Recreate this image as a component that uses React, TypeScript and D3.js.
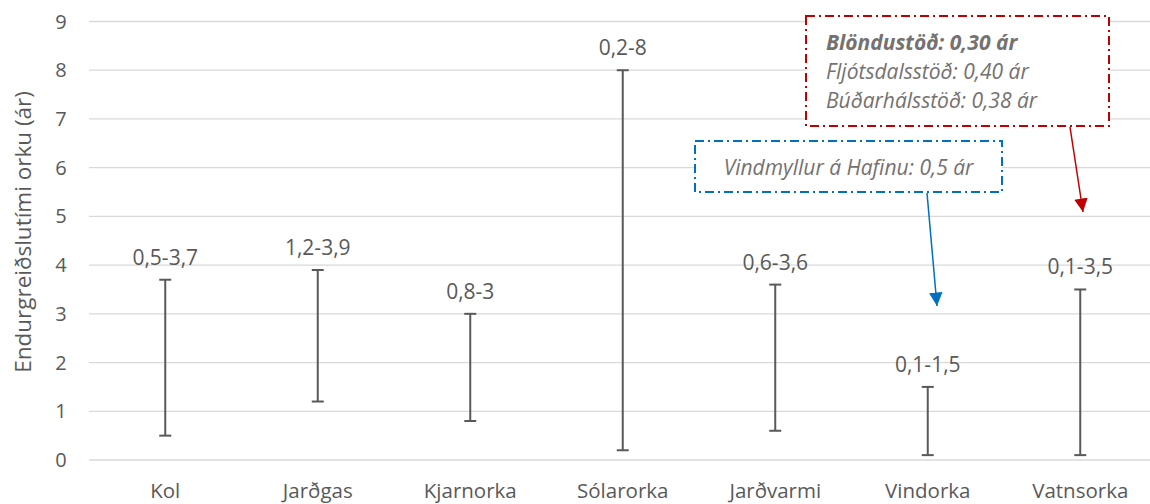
import React from "react";
import * as d3 from "d3";

const categories = ["Kol", "Jarðgas", "Kjarnorka", "Sólarorka", "Jarðvarmi", "Vindorka", "Vatnsorka"];
const lowValues = [0.5, 1.2, 0.8, 0.2, 0.6, 0.1, 0.1];
const highValues = [3.7, 3.9, 3.0, 8.0, 3.6, 1.5, 3.5];
const rangeLabels = ["0,5-3,7", "1,2-3,9", "0,8-3", "0,2-8", "0,6-3,6", "0,1-1,5", "0,1-3,5"];
const yTicks = [0, 1, 2, 3, 4, 5, 6, 7, 8, 9];
const hydroNotes = ["Blöndustöð: 0,30 ár", "Fljótsdalsstöð: 0,40 ár", "Búðarhálsstöð: 0,38 ár"];
const windNote = "Vindmyllur á Hafinu: 0,5 ár";

const W = 1150, H = 504;
const FONT = "'Open Sans', 'Noto Sans', sans-serif";
const GRAY = "#595959";

export default function App() {
  const x = d3.scaleBand<string>().domain(categories).range([89, 89 + 152.5 * 7]);
  const y = d3.scaleLinear().domain([0, 9]).range([460, 21.5]);
  const cap = 6;
  const dash = "9,4,2,4";
  return (
    <svg width={W} height={H} style={{ position: "absolute", left: 0, top: 0, background: "#fff" }} fontFamily={FONT}>
      <defs>
        <marker id="arrRed" viewBox="0 0 10 10" refX="10" refY="5" markerWidth="9" markerHeight="9" orient="auto" markerUnits="strokeWidth">
          <path d="M0,0 L10,5 L0,10 Z" fill="#C00000" />
        </marker>
        <marker id="arrBlue" viewBox="0 0 10 10" refX="10" refY="5" markerWidth="9" markerHeight="9" orient="auto" markerUnits="strokeWidth">
          <path d="M0,0 L10,5 L0,10 Z" fill="#0070C0" />
        </marker>
      </defs>
      {yTicks.map((t) => (
        <g key={t}>
          <line x1={89} x2={W} y1={y(t)} y2={y(t)} stroke="#d9d9d9" strokeWidth={1.3} />
          <text x={61} y={y(t)} dy="0.35em" textAnchor="middle" fontSize={20} fill={GRAY}>{t}</text>
        </g>
      ))}
      <text transform={`translate(31,${232}) rotate(-90)`} textAnchor="middle" fontSize={22.5} fill={GRAY}>
        Endurgreiðslutími orku (ár)
      </text>
      {categories.map((c, i) => {
        const cx = (x(c) as number) + x.bandwidth() / 2;
        return (
          <g key={c}>
            <line x1={cx} x2={cx} y1={y(lowValues[i])} y2={y(highValues[i])} stroke={GRAY} strokeWidth={2} />
            <line x1={cx - cap} x2={cx + cap} y1={y(lowValues[i])} y2={y(lowValues[i])} stroke={GRAY} strokeWidth={2} />
            <line x1={cx - cap} x2={cx + cap} y1={y(highValues[i])} y2={y(highValues[i])} stroke={GRAY} strokeWidth={2} />
            <text x={cx} y={y(highValues[i]) - 15} textAnchor="middle" fontSize={21} fill={GRAY}>{rangeLabels[i]}</text>
            <text x={cx} y={498} textAnchor="middle" fontSize={20.5} fill={GRAY}>{c}</text>
          </g>
        );
      })}
      {/* hydro annotation */}
      <rect x={806} y={16} width={303} height={110} fill="#fff" stroke="#C00000" strokeWidth={2} strokeDasharray={dash} />
      {hydroNotes.map((n, i) => (
        <text key={n} x={826} y={50 + i * 29} fontSize={21} fontStyle="italic" fontWeight={i === 0 ? 700 : 400} fill="#757171">{n}</text>
      ))}
      <line x1={1070} y1={127} x2={1083} y2={212} stroke="#C00000" strokeWidth={1.5} markerEnd="url(#arrRed)" />
      {/* wind annotation */}
      <rect x={695} y={141} width={307} height={51} fill="#fff" stroke="#0070C0" strokeWidth={2} strokeDasharray={dash} />
      <text x={848.5} y={175} textAnchor="middle" fontSize={21} fontStyle="italic" fill="#757171">{windNote}</text>
      <line x1={927} y1={193} x2={937} y2={306} stroke="#0070C0" strokeWidth={1.5} markerEnd="url(#arrBlue)" />
    </svg>
  );
}
